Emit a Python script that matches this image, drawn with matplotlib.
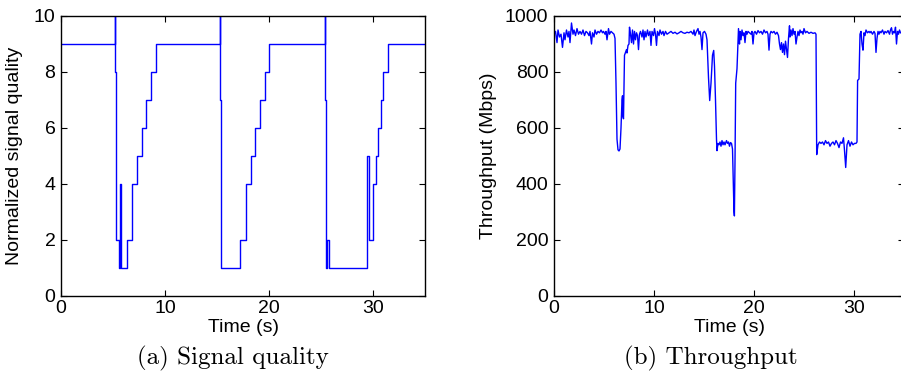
import matplotlib
matplotlib.use("Agg")
from matplotlib import pyplot as plt

# signal quality: level changes (step, held until next time)
sq_time = [0, 5.19, 5.24, 5.29, 5.61, 5.71, 5.80, 6.38, 6.83, 7.31, 7.76, 8.20, 8.62, 9.10,
           15.29, 15.32, 15.35, 17.18, 17.79, 18.24, 18.68, 19.13, 19.59, 20.03,
           25.38, 25.41, 25.45, 25.54, 25.80, 29.39, 29.62, 30.03, 30.26, 30.50, 30.77, 30.99, 31.47, 35]
sq_level = [9, 10, 8, 2, 1, 4, 1, 2, 4, 5, 6, 7, 8, 9,
            10, 7, 1, 2, 4, 5, 6, 7, 8, 9,
            10, 7, 1, 2, 1, 5, 2, 4, 5, 6, 7, 8, 9, 9]

# throughput samples (s, Mbps)
thr_time = [0.0, 0.15, 0.3, 0.4, 0.55, 0.7, 0.85, 1.0, 1.1, 1.25, 1.4, 1.5, 1.6, 1.75, 1.9, 2.0,
            2.15, 2.3, 2.45, 2.6, 2.75, 2.9, 3.05, 3.2, 3.35, 3.5, 3.6, 3.75, 3.85, 4.0, 4.1, 4.25,
            4.4, 4.55, 4.7, 4.85, 4.95, 5.1, 5.2, 5.3, 5.45, 5.55, 5.7, 5.85, 6.0, 6.1,
            6.2, 6.3, 6.4, 6.5, 6.6, 6.7, 6.8, 6.85, 6.9, 6.95, 7.0, 7.05, 7.15, 7.25, 7.3, 7.4,
            7.5, 7.55, 7.65, 7.75, 7.85, 7.95, 8.05, 8.15, 8.25, 8.35, 8.45, 8.55, 8.65, 8.8, 8.9,
            9.0, 9.1, 9.2, 9.35, 9.45, 9.6, 9.7, 9.8, 9.95, 10.05, 10.15, 10.25, 10.35, 10.5, 10.6,
            10.75, 10.9, 11.0, 11.15, 11.3, 11.5, 11.7, 11.9, 12.1, 12.3, 12.5, 12.7, 12.9, 13.1,
            13.3, 13.5, 13.7, 13.9, 14.0, 14.1, 14.25, 14.4, 14.5, 14.6, 14.7, 14.8, 14.9, 15.05,
            15.2, 15.3, 15.45, 15.57, 15.7, 15.85, 15.97, 16.05, 16.15, 16.25, 16.3, 16.4, 16.5,
            16.6, 16.7, 16.8, 16.9, 17.0, 17.1, 17.25, 17.35, 17.45, 17.55, 17.65, 17.75, 17.85,
            17.93, 18.0, 18.04, 18.1, 18.17, 18.3, 18.45, 18.55, 18.6, 18.7, 18.8, 18.9, 19.0,
            19.1, 19.2, 19.3, 19.4, 19.55, 19.7, 19.8, 19.9, 20.0, 20.1, 20.25, 20.4, 20.55, 20.7,
            20.85, 21.0, 21.15, 21.3, 21.4, 21.5, 21.6, 21.7, 21.85, 22.0, 22.15, 22.3, 22.45,
            22.55, 22.65, 22.75, 22.85, 22.95, 23.05, 23.15, 23.25, 23.35, 23.45, 23.55, 23.6,
            23.7, 23.8, 23.9, 24.0, 24.1, 24.2, 24.3, 24.4, 24.5, 24.6, 24.7, 24.8, 24.9, 25.0,
            25.15, 25.3, 25.5, 25.7, 25.9, 26.1, 26.2, 26.27,
            26.4, 26.55, 26.7, 26.85, 27.0, 27.15, 27.3, 27.45, 27.6, 27.75, 27.9, 28.05, 28.2,
            28.35, 28.5, 28.65, 28.8, 28.95, 29.05, 29.17, 29.3, 29.45, 29.6, 29.75, 29.9, 30.05,
            30.2, 30.3, 30.36, 30.5, 30.6, 30.7, 30.8, 30.9, 31.0, 31.1, 31.2, 31.35, 31.5, 31.6,
            31.7, 31.85, 32.0, 32.1, 32.2, 32.3, 32.4, 32.5, 32.6, 32.7, 32.85, 33.0, 33.1, 33.25,
            33.4, 33.55, 33.65, 33.75, 33.85, 33.95, 34.05, 34.15, 34.25, 34.35, 34.45, 34.55, 34.65]
thr_mbps = [935, 945, 905, 950, 925, 935, 888, 940, 915, 950, 925, 945, 905, 975, 935, 950,
            930, 955, 935, 945, 935, 950, 930, 945, 940, 930, 945, 900, 940, 925, 950, 935,
            945, 940, 950, 940, 945, 935, 945, 915, 955, 935, 945, 940, 935, 920,
            760, 560, 522, 518, 525, 600, 700, 715, 640, 633, 760, 860, 870, 880, 868, 895,
            900, 960, 935, 905, 950, 900, 945, 915, 940, 930, 880, 935, 945, 925, 950,
            915, 945, 925, 950, 930, 945, 895, 945, 930, 955, 935, 895, 945, 930, 950,
            935, 945, 930, 945, 935, 940, 945, 938, 942, 936, 940, 945, 940, 938,
            942, 940, 945, 935, 950, 930, 945, 955, 935, 945, 925, 880, 940, 945,
            935, 915, 780, 698, 760, 860, 877, 820, 700, 560, 519, 545, 540,
            550, 535, 555, 540, 550, 540, 555, 545, 550, 535, 548, 545, 525,
            400, 300, 286, 480, 760, 812, 955, 900, 945, 915, 950, 930, 940,
            905, 945, 935, 945, 940, 935, 945, 900, 940, 945, 935, 948, 940, 945,
            935, 950, 940, 945, 935, 878, 935, 945, 940, 945, 935, 942, 930,
            900, 880, 905, 870, 900, 862, 910, 880, 852, 920, 965, 925,
            950, 930, 955, 935, 945, 900, 925, 945, 930, 950, 940, 945, 935, 955,
            940, 945, 938, 942, 938, 940, 935, 505,
            540, 550, 545, 550, 540, 555, 545, 550, 535, 545, 550, 540, 555,
            545, 530, 550, 545, 565, 520, 459, 540, 555, 535, 550, 540, 545,
            545, 550, 770, 775, 935, 945, 900, 878, 940, 930, 950, 940, 945, 940,
            945, 935, 945, 938, 870, 920, 945, 935, 945, 940, 950, 935, 945, 940,
            948, 935, 950, 958, 935, 945, 940, 960, 900, 945, 935, 950, 940]

plt.rcParams["font.family"] = ["Liberation Sans", "DejaVu Sans"]

fig = plt.figure(figsize=(9.01, 3.85), dpi=100)
ax1 = fig.add_axes([61 / 901, 89 / 385, 364 / 901, 280 / 385])
ax2 = fig.add_axes([554 / 901, 89 / 385, 350 / 901, 280 / 385])

ax1.step(sq_time, sq_level, where="post", color="#0000ff", lw=1.0)
ax1.set_xlim(0, 35)
ax1.set_ylim(0, 10)
ax1.set_xticks([0, 10, 20, 30])
ax1.set_yticks([0, 2, 4, 6, 8, 10])
ax1.set_xlabel("Time (s)", fontsize=14, labelpad=1)
ax1.set_ylabel("Normalized signal quality", fontsize=14, labelpad=8)

ax2.plot(thr_time, thr_mbps, color="#0000ff", lw=1.0)
ax2.set_xlim(0, 35)
ax2.set_ylim(0, 1000)
ax2.set_xticks([0, 10, 20, 30])
ax2.set_yticks([0, 200, 400, 600, 800, 1000])
ax2.set_xlabel("Time (s)", fontsize=14, labelpad=1)
ax2.set_ylabel("Throughput (Mbps)", fontsize=14, labelpad=6)

for ax in (ax1, ax2):
    ax.tick_params(direction="in", length=4, width=0.8, top=True, right=True,
                   labelsize=14)
    ax.tick_params(axis="x", pad=3)
    ax.tick_params(axis="y", pad=4)
    for sp in ax.spines.values():
        sp.set_linewidth(1.0)

fig.text(233 / 901, 27 / 385, "(a) Signal quality", family="cmr10", fontsize=18,
         ha="center", va="center")
fig.text(711 / 901, 27 / 385, "(b) Throughput", family="cmr10", fontsize=18,
         ha="center", va="center")

fig.savefig("out.png", dpi=100)
